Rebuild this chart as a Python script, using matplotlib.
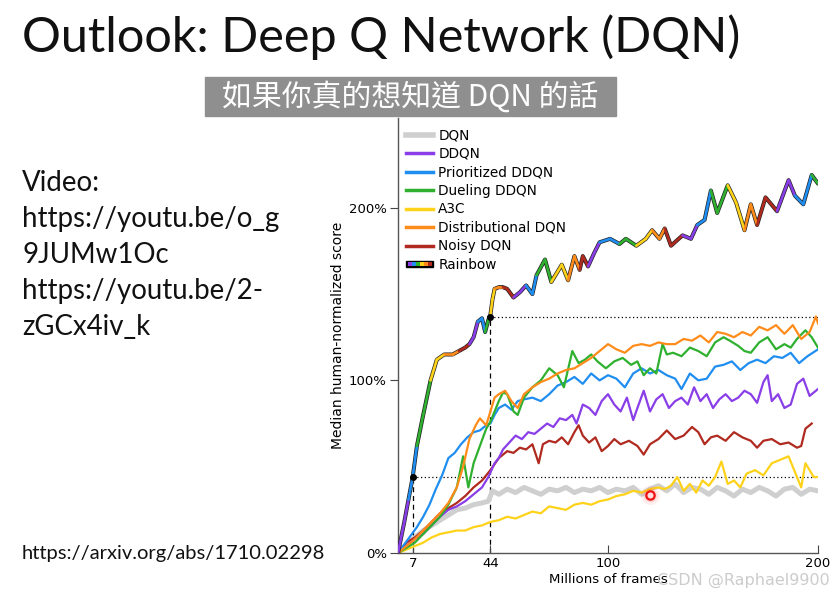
import numpy as np
import matplotlib
matplotlib.use('Agg')
import matplotlib.pyplot as plt
from matplotlib.collections import LineCollection
from matplotlib.lines import Line2D
from matplotlib.patches import Rectangle
from matplotlib.legend_handler import HandlerBase


#------------------------------
#data (% median human-normalized score)
dqn_x = [0, 4, 8, 12, 16, 20, 24, 28, 32, 36, 40, 43, 45, 48, 52, 56, 60, 64, 68, 72, 76, 80, 84, 88, 92, 96,
         100, 104, 108, 112, 116, 120, 124, 128, 132, 136, 140, 144, 148, 152, 156, 160, 164, 168, 172, 176,
         180, 184, 188, 192, 196, 200]
dqn_y = [0, 5, 9, 13, 16, 19, 22, 25, 26, 28, 29, 30, 36, 34, 37, 35, 38, 36, 34, 37, 36, 38, 35, 37, 36, 38,
         35, 37, 36, 38, 34, 37, 39, 36, 40, 35, 38, 37, 34, 38, 36, 33, 37, 35, 38, 36,
         33, 37, 38, 34, 37, 36]

a3c_x = [0, 4, 8, 12, 16, 20, 24, 28, 32, 36, 40, 44, 48, 52, 56, 60, 64, 68, 72, 76, 80, 84, 88, 92, 96,
         100, 104, 108, 112, 116, 120, 124, 127, 130, 133, 136, 139, 142, 145, 148, 151, 154, 157, 160, 163,
         166, 170, 174, 178, 182, 186, 188, 190, 192, 194, 196, 198, 200]
a3c_y = [0, 2, 4, 6, 9, 11, 12, 13, 13, 15, 16, 18, 19, 21, 20, 22, 24, 23, 27, 26, 25, 28, 29, 28, 30,
         31, 33, 34, 36, 35, 37, 38, 37, 39, 44, 36, 40, 35, 42, 39, 44, 53, 40, 42, 38,
         46, 48, 45, 52, 54, 56, 50, 44, 38, 52, 48, 44, 44]

noisy_x = [0, 4, 8, 12, 16, 20, 24, 28, 32, 36, 40, 44, 48, 52, 55, 58, 61, 64, 67, 69, 72, 75, 78, 81, 84,
           86, 88, 91, 94, 97, 100, 103, 106, 110, 114, 117, 120, 124, 128, 132, 136, 140, 143, 146, 149,
           152, 156, 160, 164, 168, 171, 174, 178, 182, 186, 190, 192, 194, 197]
noisy_y = [0, 6, 9, 13, 18, 23, 26, 29, 33, 38, 42, 48, 55, 59, 58, 61, 60, 63, 52, 63, 65, 64, 67, 63, 70,
           74, 68, 64, 67, 59, 62, 66, 63, 65, 62, 57, 63, 66, 71, 66, 68, 73, 70, 63, 67,
           68, 65, 70, 67, 65, 61, 65, 66, 63, 64, 61, 62, 72, 75]

ddqn_x = [0, 4, 8, 12, 16, 20, 24, 28, 32, 36, 40, 43, 46, 48, 50, 53, 56, 59, 62, 65, 68, 71, 74, 77, 80,
          83, 85, 88, 91, 94, 97, 100, 103, 106, 109, 112, 114, 117, 120, 123, 126, 129, 132, 135, 138,
          141, 144, 147, 150, 153, 156, 159, 162, 165, 168, 171, 174, 176, 178, 181, 184, 187, 190, 193,
          196, 200]
ddqn_y = [0, 4, 8, 11, 16, 21, 25, 27, 30, 34, 38, 44, 52, 55, 60, 64, 68, 66, 70, 69, 72, 75, 73, 78, 77,
          80, 75, 86, 84, 80, 88, 92, 86, 82, 90, 77, 84, 94, 82, 89, 92, 84, 88, 90, 86,
          96, 88, 92, 84, 89, 92, 88, 90, 94, 92, 87, 99, 103, 88, 92, 84, 86, 98, 101,
          91, 95]

prior_x = [0, 3, 6, 9, 12, 15, 18, 21, 24, 27, 30, 33, 36, 39, 42, 44, 46, 48, 51, 54, 57, 60, 64, 68, 72,
           76, 80, 84, 88, 92, 96, 100, 104, 108, 112, 116, 120, 124, 128, 132, 135, 139, 143, 147, 151,
           155, 159, 163, 167, 171, 175, 179, 183, 187, 191, 195, 200]
prior_y = [0, 5, 10, 15, 21, 28, 37, 45, 55, 58, 63, 67, 70, 71, 74, 75, 80, 84, 86, 83, 88, 89, 90, 88, 92,
           97, 99, 102, 98, 104, 100, 103, 101, 96, 104, 107, 104, 106, 103, 101, 95, 104, 100, 101, 108,
           109, 111, 106, 110, 112, 110, 114, 113, 116, 110, 114, 118]

duel_x = [0, 4, 8, 12, 16, 20, 24, 28, 31, 33.5, 36, 39, 42, 44, 46, 48, 50, 52, 55, 57, 60, 64, 68, 72, 76,
          79, 83, 86, 89, 92, 95, 99, 103, 107, 111, 114, 117, 120, 123, 126, 128, 131, 135, 139, 143,
          147, 151, 155, 158, 162, 165, 168, 172, 176, 180, 184, 187, 190, 194, 197, 200]
duel_y = [0, 3, 6, 11, 16, 21, 28, 38, 56, 38, 52, 62, 72, 76, 82, 88, 93, 92, 82, 80, 90, 96, 100, 107, 103,
          96, 117, 110, 112, 115, 111, 107, 111, 113, 109, 111, 103, 107, 104, 121, 115, 116, 114, 119, 117,
          114, 122, 125, 123, 120, 117, 116, 122, 125, 118, 121, 119, 124, 129, 125, 119]

dist_x = [0, 4, 8, 12, 16, 20, 24, 28, 31, 34, 37, 39, 42, 44, 46, 48, 51, 54, 57, 60, 64, 68, 72, 76, 80,
          84, 88, 92, 96, 100, 104, 108, 112, 116, 120, 124, 128, 132, 136, 140, 144, 148, 152, 156, 160,
          164, 168, 172, 176, 180, 184, 188, 192, 196, 199, 200]
dist_y = [0, 4, 8, 13, 18, 23, 29, 38, 50, 66, 74, 78, 74, 82, 90, 92, 94, 88, 84, 92, 96, 99, 101, 104, 106,
          107, 110, 113, 117, 121, 118, 116, 120, 121, 120, 122, 121, 121, 124, 123, 126, 122, 128, 127, 125,
          128, 126, 131, 129, 132, 127, 132, 124, 128, 137, 133]

rainbow_x = [0, 3, 5, 7, 9, 12, 15.5, 18.5, 22, 26, 29, 32, 34, 36, 38, 40, 41.5, 43, 44, 45, 46, 48, 50, 52,
             55, 58, 61, 64, 66, 70, 73, 78, 81, 84, 86.5, 88, 90.5, 93.5, 96, 101, 105.5, 108.5, 113.5,
             118, 121, 124.5, 127, 130, 135.5, 139.5, 142.5, 146, 149, 152, 157, 161, 165, 168, 171, 175,
             180.5, 186, 189, 193, 197, 200]
rainbow_y = [0, 18, 31, 44, 62, 80, 100, 112, 115, 115, 117, 119, 121, 125, 134, 136, 128, 135, 138, 147, 153,
             154, 154, 153, 148, 151, 155, 150, 161, 170, 157, 167, 158, 172, 164, 172, 166, 174, 180, 182,
             179, 182, 178, 182, 187, 182, 188, 178, 184, 182, 190, 193, 210, 197, 213, 203, 187, 202, 190,
             206, 198, 216, 207, 202, 219, 214]

# frames where Rainbow matches DQN / Distributional DQN final score
match_frames = [7, 44]
match_scores = [44, 137]

x_ticks = [7, 44, 100, 200]
y_ticks = [0, 100, 200]

c_dqn = '#cfcfcf'
c_ddqn = '#8a3ee8'
c_prior = '#1f8ef0'
c_duel = '#2fb02f'
c_a3c = '#ffd21a'
c_dist = '#ff8c1a'
c_noisy = '#b02a20'
rainbow_palette = [c_ddqn, c_prior, c_duel, c_a3c, c_dist, c_noisy]


#------------------------------
#rainbow legend patch
class RainbowHandler(HandlerBase):
    def create_artists(self, legend, orig_handle, xdescent, ydescent, width, height, fontsize, trans):
        h = 5.0
        y0 = height / 2.0 - ydescent - h / 2.0
        x0 = -xdescent
        arts = [Rectangle((x0, y0), width, h, facecolor='black', edgecolor='black', transform=trans)]
        n = len(rainbow_palette)
        w = (width - 2.0) / n
        for i, c in enumerate(rainbow_palette):
            arts.append(Rectangle((x0 + 1 + i * w, y0 + 1.2), w, h - 2.4, facecolor=c,
                                  edgecolor='none', transform=trans))
        return arts


#------------------------------
#figure
fig = plt.figure(figsize=(8.39, 5.96), dpi=100)

fig.text(22 / 839, 1 - 37 / 596, 'Outlook: Deep Q Network (DQN)', family='Lato', fontsize=35,
         va='center', ha='left', color='#111111')

fig.patches.append(Rectangle((205 / 839, 1 - 116 / 596), 411 / 839, 39 / 596, facecolor='#8f8f8f',
                             edgecolor='#8f8f8f', transform=fig.transFigure))
fig.text(410 / 839, 1 - 97 / 596, '如果你真的想知道 DQN 的話', family=['Noto Sans CJK TC', 'DejaVu Sans'],
         fontsize=21.5, color='white', ha='center', va='center')

left_lines = ['Video:', 'https://youtu.be/o_g', '9JUMw1Oc', 'https://youtu.be/2-', 'zGCx4iv_k']
for i, s in enumerate(left_lines):
    fig.text(22 / 839, 1 - (183 + 36 * i) / 596, s, family='Lato', fontsize=19.9,
             va='center', ha='left', color='#111111')
fig.text(22 / 839, 1 - 553 / 596, 'https://arxiv.org/abs/1710.02298', family='Lato', fontsize=14.5,
         va='center', ha='left', color='#111111')

ax = fig.add_axes([398 / 839, 43 / 596, 420 / 839, 435 / 596])

ax.plot(dqn_x, dqn_y, color=c_dqn, lw=3.6, label='DQN')
ax.plot(a3c_x, a3c_y, color=c_a3c, lw=1.6, label='A3C')
ax.plot(noisy_x, noisy_y, color=c_noisy, lw=1.6, label='Noisy DQN')
ax.plot(ddqn_x, ddqn_y, color=c_ddqn, lw=1.6, label='DDQN')
ax.plot(prior_x, prior_y, color=c_prior, lw=1.6, label='Prioritized DDQN')
ax.plot(duel_x, duel_y, color=c_duel, lw=1.6, label='Dueling DDQN')
ax.plot(dist_x, dist_y, color=c_dist, lw=1.6, label='Distributional DQN')

# reference lines
for fx, fy in zip(match_frames, match_scores):
    ax.plot([fx, fx], [0, fy], color='black', lw=0.9, ls=(0, (4, 3)), zorder=1)
    ax.plot([fx, 200], [fy, fy], color='black', lw=0.9, ls=(0, (1, 2)), zorder=1)

# rainbow: thin dark outline + coloured segments
pts = np.column_stack([rainbow_x, rainbow_y])
segs = np.stack([pts[:-1], pts[1:]], axis=1)
seg_cols = [rainbow_palette[(i // 2) % len(rainbow_palette)] for i in range(len(segs))]
ax.plot(rainbow_x, rainbow_y, color='#222222', lw=2.9, solid_capstyle='round', zorder=5)
ax.add_collection(LineCollection(segs, colors=seg_cols, linewidths=1.9, capstyle='round', zorder=6))
ax.plot(match_frames, match_scores, 'o', color='black', ms=4, zorder=7)

ax.set_xlim(0, 200)
ax.set_ylim(0, 252)
ax.set_xticks(x_ticks)
ax.set_yticks(y_ticks)
ax.set_yticklabels(['%d%%' % v for v in y_ticks])
ax.tick_params(axis='x', direction='in', length=6, labelsize=9.5, pad=3, color='#444444')
ax.tick_params(axis='y', direction='out', length=6, labelsize=9.5, pad=2, color='#444444')
ax.spines['top'].set_visible(False)
ax.spines['right'].set_visible(False)
for s in ['left', 'bottom']:
    ax.spines[s].set_color('#555555')
    ax.spines[s].set_linewidth(1.0)
ax.set_xlabel('Millions of frames', fontsize=9.6, labelpad=2)
ax.set_ylabel('Median human-normalized score', fontsize=10, labelpad=3)

legend_labels = ['DQN', 'DDQN', 'Prioritized DDQN', 'Dueling DDQN', 'A3C', 'Distributional DQN',
                 'Noisy DQN', 'Rainbow']
legend_cols = [c_dqn, c_ddqn, c_prior, c_duel, c_a3c, c_dist, c_noisy]
handles = [Line2D([], [], color=c, lw=(4 if i == 0 else 2.5)) for i, c in enumerate(legend_cols)]
rainbow_handle = Line2D([], [])
handles.append(rainbow_handle)
ax.legend(handles, legend_labels, loc='upper left', bbox_to_anchor=(0.0, 0.995), frameon=False,
          fontsize=9.8, handlelength=2.0, handletextpad=0.35, labelspacing=0.33, borderaxespad=0.2,
          handler_map={rainbow_handle: RainbowHandler()})

# watermark + cursor dot from the screenshot
fig.text(743 / 839, 1 - 580 / 596, 'CSDN @Raphael9900', fontsize=11.5, color='#cccccc',
         ha='center', va='center')
for r, a in [(14, 0.08), (10, 0.15)]:
    fig.add_artist(Line2D([650 / 839], [1 - 495 / 596], marker='o', ms=r, color='#ff4040', alpha=a,
                          mec='none', transform=fig.transFigure))
fig.add_artist(Line2D([650 / 839], [1 - 495 / 596], marker='o', ms=6, mfc='#ffdddd', mec='#ee1111',
                      mew=1.6, transform=fig.transFigure))

fig.savefig('out.png', dpi=100)
